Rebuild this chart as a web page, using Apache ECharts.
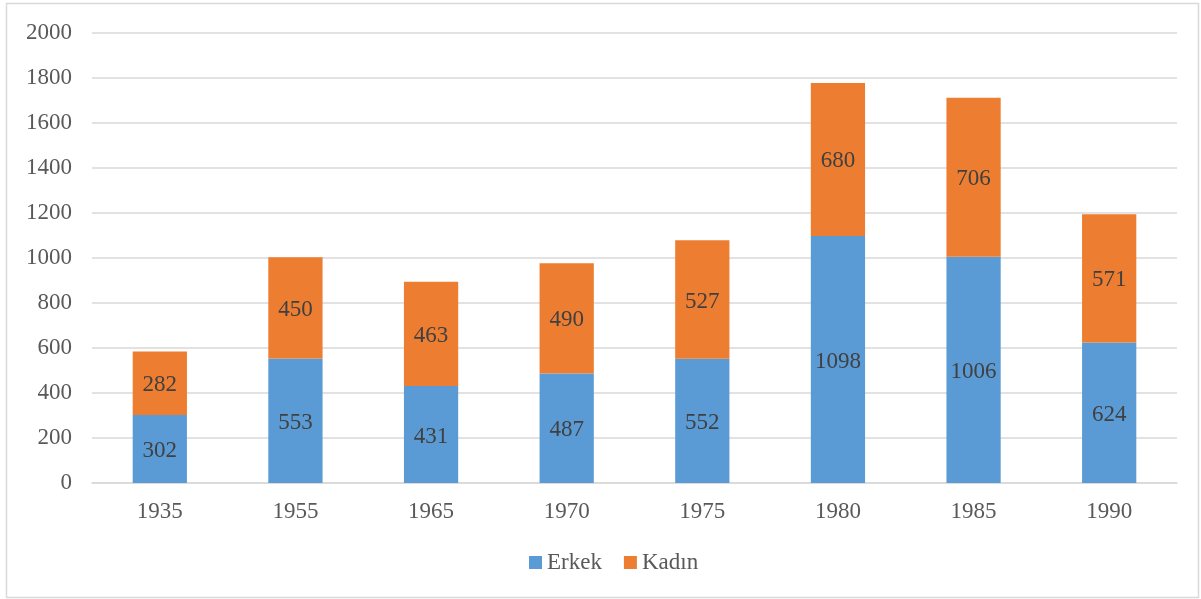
<!DOCTYPE html>
<html>
<head>
<meta charset="utf-8">
<script src="https://cdn.jsdelivr.net/npm/echarts@6/dist/echarts.min.js"></script>
<style>
html,body{margin:0;padding:0;background:#fff;}
#main{width:1201px;height:599px;}
</style>
</head>
<body>
<div id="main"></div>
<script>
var categories = ['1935','1955','1965','1970','1975','1980','1985','1990'];
var erkek = [302, 553, 431, 487, 552, 1098, 1006, 624];
var kadin = [282, 450, 463, 490, 527, 680, 706, 571];
var seriesNames = ['Erkek', 'Kadın'];

var font = '"Liberation Serif", "Times New Roman", serif';
var chart = echarts.init(document.getElementById('main'));
chart.setOption({
  animation: false,
  backgroundColor: '#ffffff',
  textStyle: {fontFamily: font},
  graphic: [{
    type: 'rect',
    shape: {x: 6.5, y: 3.5, width: 1192, height: 594},
    style: {fill: 'none', stroke: '#D9D9D9', lineWidth: 1.5},
    silent: true
  }],
  grid: {left: 92, right: 24, top: 33, bottom: 116, containLabel: false},
  legend: {
    bottom: 20,
    left: 524,
    itemWidth: 13,
    itemHeight: 13,
    itemGap: 22,
    icon: 'rect',
    textStyle: {fontFamily: font, fontSize: 23, color: '#595959'},
    data: seriesNames
  },
  xAxis: {
    type: 'category',
    data: categories,
    axisLine: {lineStyle: {color: '#D9D9D9', width: 1.5}},
    axisTick: {show: false},
    axisLabel: {fontFamily: font, fontSize: 23, color: '#595959', margin: 17}
  },
  yAxis: {
    type: 'value',
    min: 0, max: 2000, interval: 200,
    axisLine: {show: false},
    axisTick: {show: false},
    splitLine: {lineStyle: {color: '#D9D9D9', width: 1.5}},
    axisLabel: {fontFamily: font, fontSize: 23, color: '#595959', margin: 20,
      formatter: function (v) { return String(v); }}
  },
  series: [
    {
      name: seriesNames[0], type: 'bar', stack: 'total', data: erkek,
      barWidth: '40%',
      itemStyle: {color: '#5B9BD5'},
      label: {show: true, position: 'inside', offset: [0, 2], fontFamily: font, fontSize: 23, color: '#404040'}
    },
    {
      name: seriesNames[1], type: 'bar', stack: 'total', data: kadin,
      barWidth: '40%',
      itemStyle: {color: '#ED7D31'},
      label: {show: true, position: 'inside', offset: [0, 2], fontFamily: font, fontSize: 23, color: '#404040'}
    }
  ]
});
</script>
</body>
</html>
